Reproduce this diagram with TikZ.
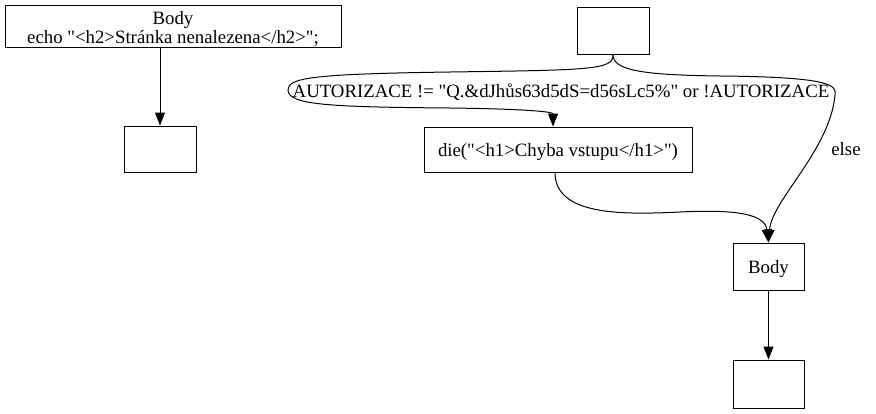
\documentclass[tikz,border=0pt]{standalone}
\usepackage{fontspec}
\setmainfont{Liberation Serif}[Ligatures=TeXOff]
\usetikzlibrary{arrows.meta}
\begin{document}
\begin{tikzpicture}[x=1pt,y=-1pt,
  box/.style={draw,line width=1pt,inner sep=0pt},
  txt/.style={inner sep=0pt,align=center,font=\fontsize{18.8}{19}\selectfont},
  lbl/.style={inner sep=1pt,font=\fontsize{18.8}{19}\selectfont},
  arr/.style={line width=1pt,-{Triangle[length=13pt,width=10pt]}}]
\path[use as bounding box] (0,0) rectangle (876,413);
\node[box,minimum width=336pt,minimum height=42pt] (A) at (173,26) {};
\node[txt] (At) at (173,28.5) {Body\\echo "<h2>Stránka nenalezena</h2>";};
\node[box,minimum width=72pt,minimum height=46pt] (B) at (160,149) {};
\node[box,minimum width=72pt,minimum height=47pt] (C) at (613,30.5) {};
\node[box,minimum width=268pt,minimum height=45pt] (D) at (558,149.5) {};
\node[txt] (Dt) at (558,152) {die("<h1>Chyba vstupu</h1>")};
\node[box,minimum width=71pt,minimum height=47pt] (E) at (768.5,266.5) {};
\node[txt] (Et) at (768.5,269) {Body};
\node[box,minimum width=71pt,minimum height=48pt] (F) at (768.5,384) {};
\draw[arr] (A.south -| B.north) -- (B.north);
\draw[arr] (C.south) .. controls (614,70) and (590,70) .. (450,72)
  .. controls (310,74) and (288,78) .. (288,90)
  .. controls (288,105) and (330,107) .. (450,108)
  .. controls (530,109) and (553,112) .. (D.north -| 553,0);
\draw[arr] (C.south) .. controls (613,70) and (640,75) .. (720,76)
  .. controls (830,77) and (837,85) .. (835,95)
  .. controls (830,150) and (772,200) .. (E.north);
\draw[arr] (D.south -| 555,0) .. controls (555,215) and (620,215) .. (680,212)
  .. controls (740,209) and (765,215) .. (E.north);
\draw[arr] (E.south) -- (F.north);
\node[lbl] (l1) at (561,92) {AUTORIZACE != "Q.\&dJhůs63d5dS=d56sLc5\%" or !AUTORIZACE};
\node[lbl] (l2) at (846,149) {else};
\end{tikzpicture}
\end{document}
